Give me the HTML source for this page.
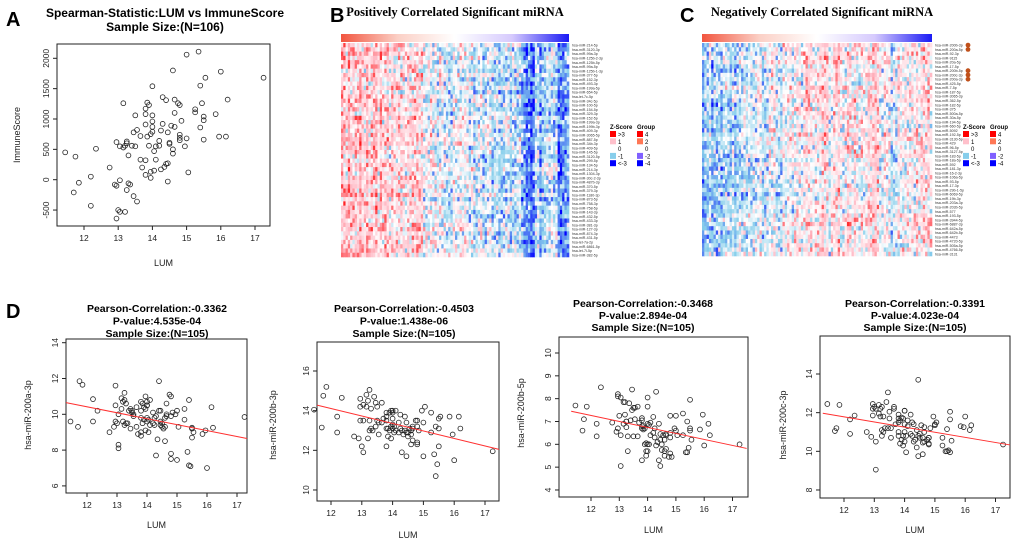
<!DOCTYPE html>
<html><head><meta charset="utf-8"><style>
html,body{margin:0;padding:0;background:#fff;width:1020px;height:545px;overflow:hidden}
svg{display:block;font-family:"Liberation Sans",sans-serif}
</style></head><body>
<svg id="fig" width="1020" height="545" viewBox="0 0 1020 545" xmlns="http://www.w3.org/2000/svg">
<g font-weight="bold" font-size="20">
<text x="6" y="26">A</text>
<text x="330" y="22">B</text>
<text x="680" y="22">C</text>
<text x="6" y="318">D</text>
</g>
<text x="455" y="16" text-anchor="middle" font-family="Liberation Serif,serif" font-weight="bold" font-size="12.5">Positively Correlated Significant miRNA</text>
<text x="822" y="16" text-anchor="middle" font-family="Liberation Serif,serif" font-weight="bold" font-size="12.5">Negatively Correlated Significant miRNA</text>
</svg>
<script>
const lum=[11.45,11.75,11.7,11.85,12.2,12.2,12.35,12.75,12.9,12.95,12.95,12.95,13.0,13.05,13.05,13.05,13.15,13.15,13.2,13.2,13.25,13.25,13.25,13.3,13.3,13.35,13.4,13.45,13.45,13.5,13.5,13.55,13.55,13.65,13.65,13.7,13.8,13.8,13.8,13.8,13.8,13.85,13.85,13.9,13.9,13.95,13.95,13.95,14.0,14.0,14.0,14.0,14.0,14.05,14.05,14.1,14.1,14.2,14.2,14.25,14.25,14.3,14.3,14.35,14.4,14.4,14.45,14.45,14.45,14.5,14.5,14.55,14.6,14.6,14.6,14.65,14.65,14.65,14.75,14.8,14.8,14.8,14.8,14.85,14.95,15.0,15.0,15.05,15.25,15.25,15.35,15.4,15.4,15.45,15.5,15.5,15.5,15.55,15.85,15.95,16.0,16.15,16.2,17.25];
const immuneScore=[450,380,-210,-50,50,-430,510,200,-80,-100,-640,620,-500,-530,-10,550,1260,530,560,-530,600,630,-170,-60,400,-80,560,-270,780,1060,550,820,-360,720,330,200,80,320,910,1080,1170,1270,710,1230,560,130,30,750,960,870,1060,1540,790,470,150,330,550,640,560,170,810,920,1360,210,1310,260,270,-30,780,610,590,890,500,430,1800,870,1100,1320,1260,1230,740,690,650,970,550,2060,680,120,1160,1110,2110,860,1550,1260,1040,980,660,1680,1080,710,1780,710,1320,1680];
const mir200a3p=[9.6,11.85,9.3,11.65,10.85,9.6,10.2,9.0,9.3,11.6,10.5,9.6,9.5,8.3,8.1,10.0,10.9,10.3,9.6,10.7,11.2,10.8,9.4,9.5,10.6,9.5,10.2,10.3,9.2,10.1,10.2,9.9,10.0,9.3,10.4,8.9,9.0,8.8,9.8,10.2,10.7,10.6,9.5,10.4,9.7,11.0,9.1,10.3,10.7,10.5,9.6,9.8,10.5,9.0,9.7,9.4,10.8,9.5,10.1,9.4,9.8,7.7,9.9,8.6,11.85,10.2,9.4,9.6,10.2,9.3,9.5,9.2,9.8,8.5,9.3,10.6,9.9,10.0,11.1,11.0,9.9,7.8,7.5,10.1,10.0,7.45,10.2,9.3,10.3,9.7,7.9,7.15,10.8,7.1,8.7,9.2,9.25,9.0,8.9,9.1,7.0,10.4,9.25,9.85];
const mir200b3p=[14.05,14.75,13.15,15.2,13.7,12.9,14.65,12.7,12.6,14.6,13.5,14.2,12.2,11.9,13.5,14.3,14.8,14.2,14.5,12.6,13.5,15.05,13.0,14.1,13.1,13.0,14.7,14.4,13.2,14.2,13.5,13.4,12.8,14.4,13.4,13.6,13.1,12.2,13.9,13.7,13.5,13.1,12.7,13.9,13.0,13.2,12.6,14.0,13.3,14.0,13.1,13.6,13.9,12.9,13.2,13.0,14.0,13.4,12.9,13.8,13.1,11.9,13.0,12.8,13.7,13.0,12.9,11.7,13.4,12.7,12.9,13.1,13.0,12.3,12.8,13.1,13.2,12.5,13.5,13.2,12.4,12.3,13.5,13.0,14.0,11.7,13.4,14.2,12.9,13.9,11.8,10.7,13.2,11.3,13.6,12.2,13.1,13.7,13.7,12.8,11.5,13.7,13.1,11.95];
const mir200b5p=[7.7,7.1,6.6,7.65,6.9,6.35,8.5,6.95,6.55,8.2,6.7,8.1,7.25,5.05,6.4,8.05,7.85,6.9,7.3,7.85,7.0,7.0,6.75,5.7,6.35,7.8,7.05,8.4,7.5,7.6,6.35,7.6,7.1,6.35,7.65,6.95,5.3,6.7,6.8,7.15,7.05,6.8,6.65,6.0,6.7,5.7,5.5,6.05,8.05,7.65,6.0,5.7,6.9,6.85,6.0,6.95,6.4,6.5,7.2,6.3,6.7,5.95,8.3,6.1,6.9,5.3,6.45,5.05,6.2,5.75,6.0,6.4,5.7,6.2,5.5,5.8,6.4,6.45,5.45,5.6,6.5,6.3,7.25,5.45,6.7,7.25,6.6,6.4,7.35,6.4,5.65,5.65,7.0,5.85,6.7,7.95,6.6,6.2,6.65,7.3,5.95,6.9,6.4,6.0];
const mir200c3p=[12.45,11.2,11.05,12.4,11.65,10.9,11.85,11.0,10.75,12.45,11.85,12.2,12.3,9.05,10.5,12.2,11.95,12.4,12.2,11.8,11.1,12.3,10.8,11.0,11.8,11.2,12.55,11.2,13.05,11.7,12.05,10.7,11.2,12.3,12.2,11.4,10.8,11.5,11.0,11.7,11.9,11.6,10.4,11.75,10.6,10.8,10.3,11.7,11.0,12.1,10.5,11.4,12.1,9.95,10.8,11.3,11.6,10.9,11.9,10.8,11.5,10.5,11.4,10.6,11.1,10.2,13.7,10.8,9.75,10.9,10.7,11.35,9.85,10.45,10.7,11.0,10.5,11.25,10.6,10.7,10.4,10.35,10.7,11.2,11.8,11.35,11.4,11.5,10.3,10.7,10.0,10.0,11.15,10.05,12.05,11.65,9.95,10.55,11.3,11.25,11.8,11.1,11.35,10.35];
const xTicks=[12,13,14,15,16,17];
const ticksA=[-500,0,500,1000,1500,2000];
const ticksD1=[6,8,10,12,14];
const ticksD2=[10,12,14,16];
const ticksD3=[4,5,6,7,8,9,10];
const ticksD4=[8,10,12,14];
const fitD1=[10.65,8.65], fitD2=[14.28,12.05], fitD3=[7.45,5.82], fitD4=[11.97,10.33];
const fitRange=[11.3,17.5];

const NS='http://www.w3.org/2000/svg';
const fig=document.getElementById('fig');
function mk(tag,attrs,parent,txt){const e=document.createElementNS(NS,tag);for(const k in attrs)e.setAttribute(k,attrs[k]);if(txt!==undefined)e.textContent=txt;(parent||fig).appendChild(e);return e;}

function panel(c){
  const g=mk('g',{});
  
  
  const X=v=>c.x0+(v-c.xv0)*c.xs, Y=v=>c.y0+(c.yv0-v)*c.ys;
  c.title.forEach((t,i)=>{const e=mk('text',{x:c.tx,y:c.ty+i*c.tl,'text-anchor':'middle','font-weight':'bold','font-size':c.tf},g,t);
    
    });
  const b=mk('rect',{x:c.bx[0],y:c.by[0],width:c.bx[1]-c.bx[0],height:c.by[1]-c.by[0],fill:'none',stroke:'#222','stroke-width':1},g);
  
  
  xTicks.forEach(v=>{const x=X(v);mk('line',{x1:x,x2:x,y1:c.by[1],y2:c.by[1]+4,stroke:'#222'},g);
    const t=mk('text',{x:x,y:c.by[1]+15,'text-anchor':'middle','font-size':8.5,fill:'#222'},g,v);
    
    });
  c.yt.forEach(v=>{const y=Y(v);mk('line',{x1:c.bx[0]-4,x2:c.bx[0],y1:y,y2:y,stroke:'#222'},g);
    const t=mk('text',{x:c.bx[0]-8,y:y,'text-anchor':'middle','font-size':8.5,fill:'#222',transform:`rotate(-90 ${c.bx[0]-8} ${y})`},g,v);
    
    });
  const xl=mk('text',{x:(c.bx[0]+c.bx[1])/2,y:c.xly,'text-anchor':'middle','font-size':9,fill:'#222'},g,'LUM');
  
  
  const yl=mk('text',{x:c.ylx,y:c.yly,'text-anchor':'middle','font-size':9,fill:'#222',transform:`rotate(-90 ${c.ylx} ${c.yly})`},g,c.ylab);
  
  
  const n=Math.min(lum.length,c.ys_.length);
  for(let i=0;i<n;i++){const p=mk('circle',{cx:X(lum[i]),cy:Y(c.ys_[i]),r:2.4,fill:'none',stroke:'#222','stroke-width':0.8},g);
    
    }
  if(c.fit){const l=mk('line',{x1:Math.max(X(fitRange[0]),c.bx[0]),y1:Y(c.fit[0]),x2:Math.min(X(fitRange[1]),c.bx[1]),y2:Y(c.fit[1]),stroke:'#ff3030','stroke-width':1},g);
    
    }
}
panel({name:'scatter-immunescore',x0:84,xv0:12,xs:34.2,y0:58.3,yv0:2000,ys:0.0607,bx:[57,270],by:[44,226],yt:ticksA,ys_:immuneScore,
  title:['Spearman-Statistic:LUM vs ImmuneScore','Sample Size:(N=106)'],tx:165,ty:17,tl:14,tf:12,xly:266,ylx:20,yly:135,ylab:'ImmuneScore'});
const dt=(r,p)=>['Pearson-Correlation:'+r,'P-value:'+p,'Sample Size:(N=105)'];
panel({name:'scatter-mir200a-3p',x0:87,xv0:12,xs:30,y0:342.7,yv0:14,ys:17.9,bx:[66,247],by:[339,493],yt:ticksD1,ys_:mir200a3p,fit:fitD1,
  title:dt('-0.3362','4.535e-04'),tx:157,ty:312,tl:12.5,tf:10.5,xly:528,ylx:31,yly:415,ylab:'hsa-miR-200a-3p'});
panel({name:'scatter-mir200b-3p',x0:331,xv0:12,xs:30.8,y0:371,yv0:16,ys:19.83,bx:[317,499],by:[342,501],yt:ticksD2,ys_:mir200b3p,fit:fitD2,
  title:dt('-0.4503','1.438e-06'),tx:404,ty:312,tl:12.5,tf:10.5,xly:538,ylx:276,yly:425,ylab:'hsa-miR-200b-3p'});
panel({name:'scatter-mir200b-5p',x0:591,xv0:12,xs:28.3,y0:353,yv0:10,ys:22.83,bx:[559,748],by:[337,497],yt:ticksD3,ys_:mir200b5p,fit:fitD3,
  title:dt('-0.3468','2.894e-04'),tx:643,ty:307,tl:12,tf:10.5,xly:533,ylx:524,yly:413,ylab:'hsa-miR-200b-5p'});
panel({name:'scatter-mir200c-3p',x0:844,xv0:12,xs:30.3,y0:374,yv0:14,ys:19.33,bx:[820,1010],by:[336,498],yt:ticksD4,ys_:mir200c3p,fit:fitD4,
  title:dt('-0.3391','4.023e-04'),tx:915,ty:307,tl:12,tf:10.5,xly:533,ylx:786,yly:425,ylab:'hsa-miR-200c-3p'});

const colMeanB=[1.0,0.9,0.8,0.7,0.6,0.5,0.4,0.2,0.0,-0.1,-0.2,-0.3,-0.4,-0.4,-0.5,-0.8,-1.8,-0.9,-0.7,-1.5];
const colMeanC=[-0.8,-0.7,-0.6,-0.5,-0.3,-0.2,-0.1,0.0,0.1,0.2,0.3,0.3,0.4,0.4,0.4,0.3,-0.5,0.4,0.4,0.3];
const labelsB=['hsa-miR-214-5p','hsa-miR-3120-3p','hsa-miR-99a-3p','hsa-miR-125b-2-3p','hsa-miR-125b-5p','hsa-miR-99a-5p','hsa-miR-125b-1-3p','hsa-miR-377-5p','hsa-miR-152-3p','hsa-miR-493-3p','hsa-miR-199a-5p','hsa-miR-654-5p','hsa-let-7c-5p','hsa-miR-34c-5p','hsa-miR-100-5p','hsa-miR-154-5p','hsa-miR-329-3p','hsa-miR-152-5p','hsa-miR-199a-3p','hsa-miR-199b-3p','hsa-miR-409-3p','hsa-miR-3065-5p','hsa-miR-887-5p','hsa-miR-34b-3p','hsa-miR-409-5p','hsa-miR-145-5p','hsa-miR-3120-5p','hsa-miR-299-5p','hsa-miR-134-5p','hsa-miR-214-3p','hsa-miR-1304-3p','hsa-miR-30c-2-3p','hsa-miR-487b-3p','hsa-miR-370-5p','hsa-miR-379-3p','hsa-miR-1180-3p','hsa-miR-873-5p','hsa-miR-758-3p','hsa-miR-758-5p','hsa-miR-143-3p','hsa-miR-432-5p','hsa-miR-433-3p','hsa-miR-381-3p','hsa-miR-127-3p','hsa-miR-874-3p','hsa-miR-431-5p','hsa-let-7a-2p','hsa-miR-6861-5p','hsa-let-7i-5p','hsa-miR-382-5p'];
const labelsC=['hsa-miR-200b-3p','hsa-miR-200a-5p','hsa-miR-92-3p','hsa-miR-9115','hsa-miR-20a-5p','hsa-miR-17-5p','hsa-miR-200b-5p','hsa-miR-200c-3p','hsa-miR-200a-3p','hsa-miR-425-5p','hsa-miR-7-5p','hsa-miR-187-5p','hsa-miR-3065-3p','hsa-miR-362-5p','hsa-miR-182-5p','hsa-miR-375','hsa-miR-500a-5p','hsa-miR-30a-5p','hsa-miR-194-5p','hsa-miR-660-5p','hsa-miR-5092','hsa-miR-192-5p','hsa-miR-3130-5p','hsa-miR-429','hsa-miR-96-5p','hsa-miR-3127-5p','hsa-miR-183-5p','hsa-miR-18a-5p','hsa-miR-592','hsa-miR-181-3p','hsa-miR-16-2-3p','hsa-miR-106a-5p','hsa-miR-93-5p','hsa-miR-17-3p','hsa-miR-29b-1-5p','hsa-miR-6069-5p','hsa-miR-19b-3p','hsa-miR-203a-3p','hsa-miR-203b-5p','hsa-miR-577','hsa-miR-193-5p','hsa-miR-3944-5p','hsa-miR-6887-3p','hsa-miR-642a-5p','hsa-miR-642b-5p','hsa-miR-4473','hsa-miR-4720-5p','hsa-miR-505a-5p','hsa-miR-4766-5p','hsa-miR-3131'];
const markedC=[0,1,6,7,8];

function texture(i,j,s){const v=Math.sin(i*12.9898+j*78.233+s*37.719)*43758.5453;return (v-Math.floor(v))*2-1;}
function zcol(z){
  const stops=[[-3,[0,0,255]],[-1,[135,206,235]],[0,[255,255,255]],[1,[255,192,203]],[3,[255,0,0]]];
  z=Math.max(-3,Math.min(3,z));
  for(let k=0;k<stops.length-1;k++){const[a,ca]=stops[k],[b,cb]=stops[k+1];
    if(z<=b){const t=(z-a)/(b-a);return `rgb(${ca.map((c,m)=>Math.round(c+(cb[m]-c)*t)).join(',')})`;}}
  return 'rgb(255,0,0)';
}
function heatmap(name,x0,x1,y0,y1,means,labels,seed,grad,legX){
  const g=mk('g',{});
  
  
  const gid=name+'-grad';
  const defs=mk('defs',{},g);const lg=mk('linearGradient',{id:gid},defs);
  grad.forEach((c,i)=>mk('stop',{offset:(i/(grad.length-1)),'stop-color':c},lg));
  const gb=mk('rect',{x:x0,y:y0-9,width:x1-x0,height:8,fill:`url(#${gid})`},g);
  
  
  const nc=means.length*5, nr=labels.length, cw=(x1-x0)/nc, rh=(y1-y0)/nr;
  for(let j=0;j<nc;j++){const m=means[Math.floor(j/5)]+0.5*texture(j,0,seed+9);
    for(let i=0;i<nr;i++){const n=texture(i,j,seed);const z=m+1.5*n*Math.abs(n)+0.3*texture(i,0,seed+3);
      const r=mk('rect',{x:x0+j*cw,y:y0+i*rh,width:cw+0.3,height:rh+0.3,fill:zcol(z)},g);
      
      }}
  labels.forEach((l,i)=>{const t=mk('text',{x:x1+3,y:y0+i*rh+rh*0.85,'font-size':3.6,fill:'#333'},g,l);
    
    });
  const L=mk('g',{'font-size':6},g);
  
  
  mk('text',{x:legX,y:129,'font-weight':'bold'},L,'Z-Score');
  mk('text',{x:legX+27,y:129,'font-weight':'bold'},L,'Group');
  const zl=[['>3','#ff0000'],['1','#ffc0cb'],['0',null],['-1','#87ceeb'],['<-3','#0000ff']];
  const gl=[['4','#ff0000'],['2','#ff7755'],['0',null],['-2','#8060ff'],['-4','#0000ff']];
  zl.forEach((e,k)=>{const y=131+k*7.3;if(e[1])mk('rect',{x:legX,y:y,width:6,height:6,fill:e[1]},L);mk('text',{x:legX+8,y:y+5.5},L,e[0]);});
  gl.forEach((e,k)=>{const y=131+k*7.3;if(e[1])mk('rect',{x:legX+27,y:y,width:6,height:6,fill:e[1]},L);mk('text',{x:legX+35,y:y+5.5},L,e[0]);});
  return {g,rh,y0};
}
heatmap('heatmap-positive',341,569,43,257,colMeanB,labelsB,1,['#f2553f','#fbd0c6','#ffffff','#d6cafd','#1a1af5'],610);
const hc=heatmap('heatmap-negative',702,932,43,256,colMeanC,labelsC,5,['#f2553f','#fbd0c6','#ffffff','#d6cafd','#1a1af5'],963);
markedC.forEach(i=>{const m=mk('circle',{cx:968,cy:hc.y0+i*hc.rh+hc.rh/2,r:2.4,fill:'#c0501a'},hc.g);
  
  });
</script>
</body></html>
